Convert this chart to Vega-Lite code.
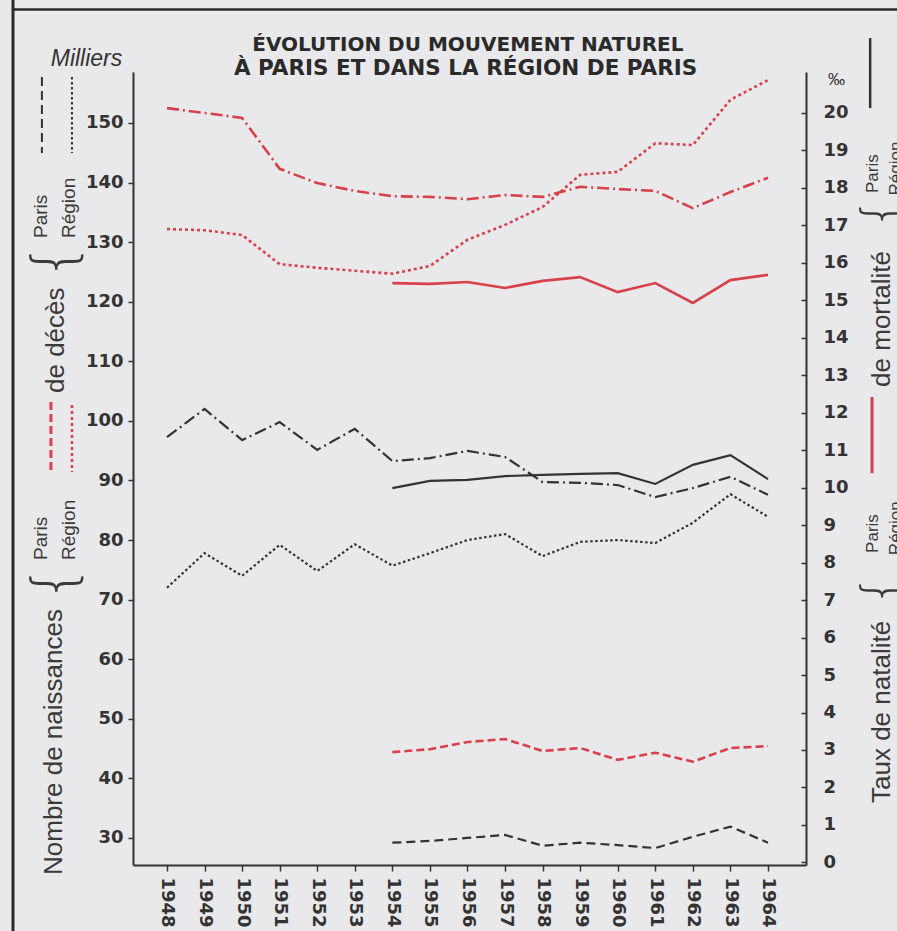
{
  "$schema": "https://vega.github.io/schema/vega-lite/v6.json",
  "width": 673,
  "height": 793,
  "autosize": {"type": "none"},
  "padding": {"left": 133, "top": 72, "right": 91, "bottom": 66},
  "background": "#e9e9eb",
  "config": {"view": {"stroke": null}, "font": "Liberation Sans"},
  "datasets": {
    "series": [
      {"year": 1954, "series": "Naissances Paris", "value": 29.2},
      {"year": 1955, "series": "Naissances Paris", "value": 29.5},
      {"year": 1956, "series": "Naissances Paris", "value": 30.0},
      {"year": 1957, "series": "Naissances Paris", "value": 30.5},
      {"year": 1958, "series": "Naissances Paris", "value": 28.7},
      {"year": 1959, "series": "Naissances Paris", "value": 29.2},
      {"year": 1960, "series": "Naissances Paris", "value": 28.8},
      {"year": 1961, "series": "Naissances Paris", "value": 28.3},
      {"year": 1962, "series": "Naissances Paris", "value": 30.2},
      {"year": 1963, "series": "Naissances Paris", "value": 31.9},
      {"year": 1964, "series": "Naissances Paris", "value": 29.2},
      {"year": 1948, "series": "Naissances Région", "value": 72.0},
      {"year": 1949, "series": "Naissances Région", "value": 77.8},
      {"year": 1950, "series": "Naissances Région", "value": 74.0},
      {"year": 1951, "series": "Naissances Région", "value": 79.2},
      {"year": 1952, "series": "Naissances Région", "value": 74.8},
      {"year": 1953, "series": "Naissances Région", "value": 79.3},
      {"year": 1954, "series": "Naissances Région", "value": 75.7},
      {"year": 1955, "series": "Naissances Région", "value": 77.8},
      {"year": 1956, "series": "Naissances Région", "value": 80.0},
      {"year": 1957, "series": "Naissances Région", "value": 81.0},
      {"year": 1958, "series": "Naissances Région", "value": 77.3},
      {"year": 1959, "series": "Naissances Région", "value": 79.7},
      {"year": 1960, "series": "Naissances Région", "value": 80.0},
      {"year": 1961, "series": "Naissances Région", "value": 79.5},
      {"year": 1962, "series": "Naissances Région", "value": 82.9},
      {"year": 1963, "series": "Naissances Région", "value": 87.7},
      {"year": 1964, "series": "Naissances Région", "value": 83.9},
      {"year": 1954, "series": "Décès Paris", "value": 44.4},
      {"year": 1955, "series": "Décès Paris", "value": 44.9},
      {"year": 1956, "series": "Décès Paris", "value": 46.1},
      {"year": 1957, "series": "Décès Paris", "value": 46.6},
      {"year": 1958, "series": "Décès Paris", "value": 44.6},
      {"year": 1959, "series": "Décès Paris", "value": 45.1},
      {"year": 1960, "series": "Décès Paris", "value": 43.1},
      {"year": 1961, "series": "Décès Paris", "value": 44.3},
      {"year": 1962, "series": "Décès Paris", "value": 42.8},
      {"year": 1963, "series": "Décès Paris", "value": 45.1},
      {"year": 1964, "series": "Décès Paris", "value": 45.4},
      {"year": 1948, "series": "Décès Région", "value": 132.2},
      {"year": 1949, "series": "Décès Région", "value": 132.0},
      {"year": 1950, "series": "Décès Région", "value": 131.2},
      {"year": 1951, "series": "Décès Région", "value": 126.3},
      {"year": 1952, "series": "Décès Région", "value": 125.7},
      {"year": 1953, "series": "Décès Région", "value": 125.2},
      {"year": 1954, "series": "Décès Région", "value": 124.7},
      {"year": 1955, "series": "Décès Région", "value": 126.0},
      {"year": 1956, "series": "Décès Région", "value": 130.4},
      {"year": 1957, "series": "Décès Région", "value": 132.9},
      {"year": 1958, "series": "Décès Région", "value": 135.9},
      {"year": 1959, "series": "Décès Région", "value": 141.3},
      {"year": 1960, "series": "Décès Région", "value": 141.8},
      {"year": 1961, "series": "Décès Région", "value": 146.6},
      {"year": 1962, "series": "Décès Région", "value": 146.3},
      {"year": 1963, "series": "Décès Région", "value": 153.9},
      {"year": 1964, "series": "Décès Région", "value": 157.2},
      {"year": 1954, "series": "Natalité Paris", "value": 9.99},
      {"year": 1955, "series": "Natalité Paris", "value": 10.18},
      {"year": 1956, "series": "Natalité Paris", "value": 10.21},
      {"year": 1957, "series": "Natalité Paris", "value": 10.31},
      {"year": 1958, "series": "Natalité Paris", "value": 10.34},
      {"year": 1959, "series": "Natalité Paris", "value": 10.37},
      {"year": 1960, "series": "Natalité Paris", "value": 10.39},
      {"year": 1961, "series": "Natalité Paris", "value": 10.10},
      {"year": 1962, "series": "Natalité Paris", "value": 10.61},
      {"year": 1963, "series": "Natalité Paris", "value": 10.87},
      {"year": 1964, "series": "Natalité Paris", "value": 10.23},
      {"year": 1948, "series": "Natalité Région", "value": 11.35},
      {"year": 1949, "series": "Natalité Région", "value": 12.10},
      {"year": 1950, "series": "Natalité Région", "value": 11.27},
      {"year": 1951, "series": "Natalité Région", "value": 11.75},
      {"year": 1952, "series": "Natalité Région", "value": 11.01},
      {"year": 1953, "series": "Natalité Région", "value": 11.57},
      {"year": 1954, "series": "Natalité Région", "value": 10.71},
      {"year": 1955, "series": "Natalité Région", "value": 10.79},
      {"year": 1956, "series": "Natalité Région", "value": 10.98},
      {"year": 1957, "series": "Natalité Région", "value": 10.82},
      {"year": 1958, "series": "Natalité Région", "value": 10.15},
      {"year": 1959, "series": "Natalité Région", "value": 10.13},
      {"year": 1960, "series": "Natalité Région", "value": 10.07},
      {"year": 1961, "series": "Natalité Région", "value": 9.75},
      {"year": 1962, "series": "Natalité Région", "value": 9.99},
      {"year": 1963, "series": "Natalité Région", "value": 10.29},
      {"year": 1964, "series": "Natalité Région", "value": 9.81},
      {"year": 1954, "series": "Mortalité Paris", "value": 15.46},
      {"year": 1955, "series": "Mortalité Paris", "value": 15.44},
      {"year": 1956, "series": "Mortalité Paris", "value": 15.49},
      {"year": 1957, "series": "Mortalité Paris", "value": 15.33},
      {"year": 1958, "series": "Mortalité Paris", "value": 15.52},
      {"year": 1959, "series": "Mortalité Paris", "value": 15.62},
      {"year": 1960, "series": "Mortalité Paris", "value": 15.22},
      {"year": 1961, "series": "Mortalité Paris", "value": 15.46},
      {"year": 1962, "series": "Mortalité Paris", "value": 14.93},
      {"year": 1963, "series": "Mortalité Paris", "value": 15.54},
      {"year": 1964, "series": "Mortalité Paris", "value": 15.68},
      {"year": 1948, "series": "Mortalité Région", "value": 20.13},
      {"year": 1949, "series": "Mortalité Région", "value": 20.00},
      {"year": 1950, "series": "Mortalité Région", "value": 19.87},
      {"year": 1951, "series": "Mortalité Région", "value": 18.51},
      {"year": 1952, "series": "Mortalité Région", "value": 18.13},
      {"year": 1953, "series": "Mortalité Région", "value": 17.92},
      {"year": 1954, "series": "Mortalité Région", "value": 17.78},
      {"year": 1955, "series": "Mortalité Région", "value": 17.76},
      {"year": 1956, "series": "Mortalité Région", "value": 17.70},
      {"year": 1957, "series": "Mortalité Région", "value": 17.81},
      {"year": 1958, "series": "Mortalité Région", "value": 17.76},
      {"year": 1959, "series": "Mortalité Région", "value": 18.03},
      {"year": 1960, "series": "Mortalité Région", "value": 17.97},
      {"year": 1961, "series": "Mortalité Région", "value": 17.92},
      {"year": 1962, "series": "Mortalité Région", "value": 17.46},
      {"year": 1963, "series": "Mortalité Région", "value": 17.89},
      {"year": 1964, "series": "Mortalité Région", "value": 18.27}
    ]
  },
  "layer": [
    {
      "data": {"name": "series"},
      "transform": [{"filter": {"field": "series", "equal": "Naissances Région"}}],
      "mark": {"type": "line", "strokeWidth": 2.2, "color": "#333333", "strokeDash": [2.5, 2.5]},
      "encoding": {
        "x": {"field": "year", "type": "quantitative",
          "scale": {"domain": [1947.095, 1965.012], "nice": false, "zero": false},
          "axis": {"orient": "bottom", "values": [1948,1949,1950,1951,1952,1953,1954,1955,1956,1957,1958,1959,1960,1961,1962,1963,1964],
            "format": "d", "title": null, "grid": false, "labelAngle": 90, "labelFont": "DejaVu Sans", "labelFontWeight": "bold",
            "labelFontSize": 18, "labelColor": "#333", "tickSize": 6, "tickWidth": 1.5, "tickColor": "#333",
            "domainColor": "#333", "domainWidth": 2, "labelPadding": 6}},
        "y": {"field": "value", "type": "quantitative",
          "scale": {"domain": [25.46, 158.56], "nice": false, "zero": false},
          "axis": {"orient": "left", "values": [30,40,50,60,70,80,90,100,110,120,130,140,150], "grid": false,
            "title": "Milliers", "titleAngle": 0, "titleX": -47, "titleY": -14, "titleAlign": "center", "titleBaseline": "middle",
            "titleFont": "Liberation Sans", "titleFontStyle": "italic", "titleFontWeight": "normal", "titleFontSize": 23, "titleColor": "#333",
            "labelFont": "DejaVu Sans", "labelFontWeight": "bold", "labelFontSize": 18, "labelColor": "#333",
            "tickSize": 5, "tickWidth": 1.5, "tickColor": "#333", "domainColor": "#333", "domainWidth": 2, "labelPadding": 5}}
      }
    },
    {
      "data": {"name": "series"},
      "transform": [{"filter": {"field": "series", "equal": "Naissances Paris"}}],
      "mark": {"type": "line", "strokeWidth": 2.2, "color": "#333333", "strokeDash": [9, 5]},
      "encoding": {
        "x": {"field": "year", "type": "quantitative", "scale": {"domain": [1947.095, 1965.012], "nice": false, "zero": false}, "axis": null},
        "y": {"field": "value", "type": "quantitative", "scale": {"domain": [25.46, 158.56], "nice": false, "zero": false}, "axis": null}
      }
    },
    {
      "data": {"name": "series"},
      "transform": [{"filter": {"field": "series", "equal": "Décès Paris"}}],
      "mark": {"type": "line", "strokeWidth": 2.6, "color": "#d8404a", "strokeDash": [8, 4]},
      "encoding": {
        "x": {"field": "year", "type": "quantitative", "scale": {"domain": [1947.095, 1965.012], "nice": false, "zero": false}, "axis": null},
        "y": {"field": "value", "type": "quantitative", "scale": {"domain": [25.46, 158.56], "nice": false, "zero": false}, "axis": null}
      }
    },
    {
      "data": {"name": "series"},
      "transform": [{"filter": {"field": "series", "equal": "Décès Région"}}],
      "mark": {"type": "line", "strokeWidth": 2.6, "color": "#d8404a", "strokeDash": [3, 3]},
      "encoding": {
        "x": {"field": "year", "type": "quantitative", "scale": {"domain": [1947.095, 1965.012], "nice": false, "zero": false}, "axis": null},
        "y": {"field": "value", "type": "quantitative", "scale": {"domain": [25.46, 158.56], "nice": false, "zero": false}, "axis": null}
      }
    },
    {
      "data": {"name": "series"},
      "transform": [{"filter": {"field": "series", "equal": "Natalité Paris"}}],
      "mark": {"type": "line", "strokeWidth": 2.2, "color": "#333333"},
      "encoding": {
        "x": {"field": "year", "type": "quantitative", "scale": {"domain": [1947.095, 1965.012], "nice": false, "zero": false}, "axis": null},
        "y": {"field": "value", "type": "quantitative",
          "scale": {"domain": [-0.07, 21.094], "nice": false, "zero": false},
          "axis": {"orient": "right", "values": [0,1,2,3,4,5,6,7,8,9,10,11,12,13,14,15,16,17,18,19,20], "grid": false,
            "title": "‰", "titleAngle": 0, "titleX": 30, "titleY": 7, "titleAlign": "center", "titleBaseline": "middle",
            "titleFont": "Liberation Sans", "titleFontWeight": "normal", "titleFontSize": 17, "titleColor": "#333",
            "labelFont": "DejaVu Sans", "labelFontWeight": "bold", "labelFontSize": 18, "labelColor": "#333",
            "tickSize": -5, "tickWidth": 1.5, "tickColor": "#333", "domainColor": "#333", "domainWidth": 2, "labelPadding": 22}}
      }
    },
    {
      "data": {"name": "series"},
      "transform": [{"filter": {"field": "series", "equal": "Natalité Région"}}],
      "mark": {"type": "line", "strokeWidth": 2.2, "color": "#333333", "strokeDash": [12, 4, 2, 4]},
      "encoding": {
        "x": {"field": "year", "type": "quantitative", "scale": {"domain": [1947.095, 1965.012], "nice": false, "zero": false}, "axis": null},
        "y": {"field": "value", "type": "quantitative", "scale": {"domain": [-0.07, 21.094], "nice": false, "zero": false}, "axis": null}
      }
    },
    {
      "data": {"name": "series"},
      "transform": [{"filter": {"field": "series", "equal": "Mortalité Paris"}}],
      "mark": {"type": "line", "strokeWidth": 2.6, "color": "#d8404a"},
      "encoding": {
        "x": {"field": "year", "type": "quantitative", "scale": {"domain": [1947.095, 1965.012], "nice": false, "zero": false}, "axis": null},
        "y": {"field": "value", "type": "quantitative", "scale": {"domain": [-0.07, 21.094], "nice": false, "zero": false}, "axis": null}
      }
    },
    {
      "data": {"name": "series"},
      "transform": [{"filter": {"field": "series", "equal": "Mortalité Région"}}],
      "mark": {"type": "line", "strokeWidth": 2.6, "color": "#d8404a", "strokeDash": [12, 4, 2, 4]},
      "encoding": {
        "x": {"field": "year", "type": "quantitative", "scale": {"domain": [1947.095, 1965.012], "nice": false, "zero": false}, "axis": null},
        "y": {"field": "value", "type": "quantitative", "scale": {"domain": [-0.07, 21.094], "nice": false, "zero": false}, "axis": null}
      }
    },
    {
      "data": {"values": [{}]},
      "mark": {"type": "text", "align": "center", "baseline": "alphabetic", "font": "DejaVu Sans", "fontWeight": "bold", "fontSize": 20, "color": "#2a2a2a"},
      "encoding": {
        "x": {"datum": 1956.01, "type": "quantitative", "scale": {"domain": [1947.095, 1965.012], "nice": false, "zero": false}, "axis": null},
        "y": {"datum": 162.03, "type": "quantitative", "scale": {"domain": [25.46, 158.56], "nice": false, "zero": false}, "axis": null},
        "text": {"value": "ÉVOLUTION DU MOUVEMENT NATUREL"}
      }
    },
    {
      "data": {"values": [{}]},
      "mark": {"type": "text", "align": "center", "baseline": "alphabetic", "font": "DejaVu Sans", "fontWeight": "bold", "fontSize": 21.5, "color": "#2a2a2a"},
      "encoding": {
        "x": {"datum": 1955.95, "type": "quantitative", "scale": {"domain": [1947.095, 1965.012], "nice": false, "zero": false}, "axis": null},
        "y": {"datum": 158.0, "type": "quantitative", "scale": {"domain": [25.46, 158.56], "nice": false, "zero": false}, "axis": null},
        "text": {"value": "À PARIS ET DANS LA RÉGION DE PARIS"}
      }
    },
    {
      "data": {"values": [{}]},
      "mark": {"type": "rule", "color": "#2a2a2a", "strokeWidth": 3},
      "encoding": {
        "x": {"datum": 1943.9, "type": "quantitative", "scale": {"domain": [1947.095, 1965.012], "nice": false, "zero": false}, "axis": null},
        "y": {"datum": 175, "type": "quantitative", "scale": {"domain": [25.46, 158.56], "nice": false, "zero": false}, "axis": null},
        "y2": {"datum": 0}
      }
    },
    {
      "data": {"values": [{}]},
      "mark": {"type": "rule", "color": "#2a2a2a", "strokeWidth": 2.5},
      "encoding": {
        "x": {"datum": 1943.9, "type": "quantitative", "scale": {"domain": [1947.095, 1965.012], "nice": false, "zero": false}, "axis": null},
        "x2": {"datum": 1968.5},
        "y": {"datum": 169.05, "type": "quantitative", "scale": {"domain": [25.46, 158.56], "nice": false, "zero": false}, "axis": null}
      }
    },
    {
      "data": {"values": [{}]},
      "mark": {"type": "rule", "color": "#333333", "strokeWidth": 2, "strokeDash": [9, 5]},
      "encoding": {
        "x": {"datum": 1944.67, "type": "quantitative", "scale": {"domain": [1947.095, 1965.012], "nice": false, "zero": false}, "axis": null},
        "y": {"datum": 157.72, "type": "quantitative", "scale": {"domain": [25.46, 158.56], "nice": false, "zero": false}, "axis": null},
        "y2": {"datum": 144.96}
      }
    },
    {
      "data": {"values": [{}]},
      "mark": {"type": "rule", "color": "#333333", "strokeWidth": 2, "strokeDash": [2.5, 2.5]},
      "encoding": {
        "x": {"datum": 1945.47, "type": "quantitative", "scale": {"domain": [1947.095, 1965.012], "nice": false, "zero": false}, "axis": null},
        "y": {"datum": 157.72, "type": "quantitative", "scale": {"domain": [25.46, 158.56], "nice": false, "zero": false}, "axis": null},
        "y2": {"datum": 144.96}
      }
    },
    {
      "data": {"values": [{}]},
      "mark": {"type": "rule", "color": "#d8404a", "strokeWidth": 3, "strokeDash": [8, 4]},
      "encoding": {
        "x": {"datum": 1944.91, "type": "quantitative", "scale": {"domain": [1947.095, 1965.012], "nice": false, "zero": false}, "axis": null},
        "y": {"datum": 103.17, "type": "quantitative", "scale": {"domain": [25.46, 158.56], "nice": false, "zero": false}, "axis": null},
        "y2": {"datum": 91.42}
      }
    },
    {
      "data": {"values": [{}]},
      "mark": {"type": "rule", "color": "#d8404a", "strokeWidth": 2.5, "strokeDash": [3, 3]},
      "encoding": {
        "x": {"datum": 1945.47, "type": "quantitative", "scale": {"domain": [1947.095, 1965.012], "nice": false, "zero": false}, "axis": null},
        "y": {"datum": 102.67, "type": "quantitative", "scale": {"domain": [25.46, 158.56], "nice": false, "zero": false}, "axis": null},
        "y2": {"datum": 91.42}
      }
    },
    {
      "data": {"values": [{}]},
      "mark": {"type": "text", "angle": 270, "align": "left", "baseline": "alphabetic", "font": "Liberation Sans", "fontSize": 19, "color": "#3a3a3a"},
      "encoding": {
        "x": {"datum": 1944.81, "type": "quantitative", "scale": {"domain": [1947.095, 1965.012], "nice": false, "zero": false}, "axis": null},
        "y": {"datum": 130.7, "type": "quantitative", "scale": {"domain": [25.46, 158.56], "nice": false, "zero": false}, "axis": null},
        "text": {"value": "Paris"}
      }
    },
    {
      "data": {"values": [{}]},
      "mark": {"type": "text", "angle": 270, "align": "left", "baseline": "alphabetic", "font": "Liberation Sans", "fontSize": 19, "color": "#3a3a3a"},
      "encoding": {
        "x": {"datum": 1945.55, "type": "quantitative", "scale": {"domain": [1947.095, 1965.012], "nice": false, "zero": false}, "axis": null},
        "y": {"datum": 130.7, "type": "quantitative", "scale": {"domain": [25.46, 158.56], "nice": false, "zero": false}, "axis": null},
        "text": {"value": "Région"}
      }
    },
    {
      "data": {"values": [{}]},
      "mark": {"type": "text", "angle": 270, "align": "center", "baseline": "middle", "font": "DejaVu Sans", "fontWeight": 200, "fontSize": 58, "color": "#3a3a3a"},
      "encoding": {
        "x": {"datum": 1945.07, "type": "quantitative", "scale": {"domain": [1947.095, 1965.012], "nice": false, "zero": false}, "axis": null},
        "y": {"datum": 126.84, "type": "quantitative", "scale": {"domain": [25.46, 158.56], "nice": false, "zero": false}, "axis": null},
        "text": {"value": "{"}
      }
    },
    {
      "data": {"values": [{}]},
      "mark": {"type": "text", "angle": 270, "align": "left", "baseline": "alphabetic", "font": "Liberation Sans", "fontSize": 26, "color": "#3a3a3a"},
      "encoding": {
        "x": {"datum": 1945.26, "type": "quantitative", "scale": {"domain": [1947.095, 1965.012], "nice": false, "zero": false}, "axis": null},
        "y": {"datum": 104.68, "type": "quantitative", "scale": {"domain": [25.46, 158.56], "nice": false, "zero": false}, "axis": null},
        "text": {"value": "de décès"}
      }
    },
    {
      "data": {"values": [{}]},
      "mark": {"type": "text", "angle": 270, "align": "left", "baseline": "alphabetic", "font": "Liberation Sans", "fontSize": 19, "color": "#3a3a3a"},
      "encoding": {
        "x": {"datum": 1944.81, "type": "quantitative", "scale": {"domain": [1947.095, 1965.012], "nice": false, "zero": false}, "axis": null},
        "y": {"datum": 76.65, "type": "quantitative", "scale": {"domain": [25.46, 158.56], "nice": false, "zero": false}, "axis": null},
        "text": {"value": "Paris"}
      }
    },
    {
      "data": {"values": [{}]},
      "mark": {"type": "text", "angle": 270, "align": "left", "baseline": "alphabetic", "font": "Liberation Sans", "fontSize": 19, "color": "#3a3a3a"},
      "encoding": {
        "x": {"datum": 1945.55, "type": "quantitative", "scale": {"domain": [1947.095, 1965.012], "nice": false, "zero": false}, "axis": null},
        "y": {"datum": 76.65, "type": "quantitative", "scale": {"domain": [25.46, 158.56], "nice": false, "zero": false}, "axis": null},
        "text": {"value": "Région"}
      }
    },
    {
      "data": {"values": [{}]},
      "mark": {"type": "text", "angle": 270, "align": "center", "baseline": "middle", "font": "DejaVu Sans", "fontWeight": 200, "fontSize": 58, "color": "#3a3a3a"},
      "encoding": {
        "x": {"datum": 1945.07, "type": "quantitative", "scale": {"domain": [1947.095, 1965.012], "nice": false, "zero": false}, "axis": null},
        "y": {"datum": 72.79, "type": "quantitative", "scale": {"domain": [25.46, 158.56], "nice": false, "zero": false}, "axis": null},
        "text": {"value": "{"}
      }
    },
    {
      "data": {"values": [{}]},
      "mark": {"type": "text", "angle": 270, "align": "left", "baseline": "alphabetic", "font": "Liberation Sans", "fontSize": 26, "color": "#3a3a3a"},
      "encoding": {
        "x": {"datum": 1945.21, "type": "quantitative", "scale": {"domain": [1947.095, 1965.012], "nice": false, "zero": false}, "axis": null},
        "y": {"datum": 23.78, "type": "quantitative", "scale": {"domain": [25.46, 158.56], "nice": false, "zero": false}, "axis": null},
        "text": {"value": "Nombre de naissances"}
      }
    },
    {
      "data": {"values": [{}]},
      "mark": {"type": "rule", "color": "#333333", "strokeWidth": 2.5},
      "encoding": {
        "x": {"datum": 1966.72, "type": "quantitative", "scale": {"domain": [1947.095, 1965.012], "nice": false, "zero": false}, "axis": null},
        "y": {"datum": 22.0, "type": "quantitative", "scale": {"domain": [-0.07, 21.094], "nice": false, "zero": false}, "axis": null},
        "y2": {"datum": 20.13}
      }
    },
    {
      "data": {"values": [{}]},
      "mark": {"type": "rule", "color": "#d8404a", "strokeWidth": 3},
      "encoding": {
        "x": {"datum": 1966.77, "type": "quantitative", "scale": {"domain": [1947.095, 1965.012], "nice": false, "zero": false}, "axis": null},
        "y": {"datum": 12.42, "type": "quantitative", "scale": {"domain": [-0.07, 21.094], "nice": false, "zero": false}, "axis": null},
        "y2": {"datum": 10.39}
      }
    },
    {
      "data": {"values": [{}]},
      "mark": {"type": "text", "angle": 270, "align": "left", "baseline": "alphabetic", "font": "Liberation Sans", "fontSize": 17, "color": "#3a3a3a"},
      "encoding": {
        "x": {"datum": 1966.93, "type": "quantitative", "scale": {"domain": [1947.095, 1965.012], "nice": false, "zero": false}, "axis": null},
        "y": {"datum": 17.865, "type": "quantitative", "scale": {"domain": [-0.07, 21.094], "nice": false, "zero": false}, "axis": null},
        "text": {"value": "Paris"}
      }
    },
    {
      "data": {"values": [{}]},
      "mark": {"type": "text", "angle": 270, "align": "left", "baseline": "alphabetic", "font": "Liberation Sans", "fontSize": 17, "color": "#3a3a3a"},
      "encoding": {
        "x": {"datum": 1967.54, "type": "quantitative", "scale": {"domain": [1947.095, 1965.012], "nice": false, "zero": false}, "axis": null},
        "y": {"datum": 17.8, "type": "quantitative", "scale": {"domain": [-0.07, 21.094], "nice": false, "zero": false}, "axis": null},
        "text": {"value": "Région"}
      }
    },
    {
      "data": {"values": [{}]},
      "mark": {"type": "text", "angle": 270, "align": "center", "baseline": "middle", "font": "DejaVu Sans", "fontWeight": 200, "fontSize": 50, "color": "#3a3a3a"},
      "encoding": {
        "x": {"datum": 1967.04, "type": "quantitative", "scale": {"domain": [1947.095, 1965.012], "nice": false, "zero": false}, "axis": null},
        "y": {"datum": 17.33, "type": "quantitative", "scale": {"domain": [-0.07, 21.094], "nice": false, "zero": false}, "axis": null},
        "text": {"value": "{"}
      }
    },
    {
      "data": {"values": [{}]},
      "mark": {"type": "text", "angle": 270, "align": "left", "baseline": "alphabetic", "font": "Liberation Sans", "fontSize": 26, "color": "#3a3a3a"},
      "encoding": {
        "x": {"datum": 1967.25, "type": "quantitative", "scale": {"domain": [1947.095, 1965.012], "nice": false, "zero": false}, "axis": null},
        "y": {"datum": 12.69, "type": "quantitative", "scale": {"domain": [-0.07, 21.094], "nice": false, "zero": false}, "axis": null},
        "text": {"value": "de mortalité"}
      }
    },
    {
      "data": {"values": [{}]},
      "mark": {"type": "text", "angle": 270, "align": "left", "baseline": "alphabetic", "font": "Liberation Sans", "fontSize": 17, "color": "#3a3a3a"},
      "encoding": {
        "x": {"datum": 1966.93, "type": "quantitative", "scale": {"domain": [1947.095, 1965.012], "nice": false, "zero": false}, "axis": null},
        "y": {"datum": 8.26, "type": "quantitative", "scale": {"domain": [-0.07, 21.094], "nice": false, "zero": false}, "axis": null},
        "text": {"value": "Paris"}
      }
    },
    {
      "data": {"values": [{}]},
      "mark": {"type": "text", "angle": 270, "align": "left", "baseline": "alphabetic", "font": "Liberation Sans", "fontSize": 17, "color": "#3a3a3a"},
      "encoding": {
        "x": {"datum": 1967.54, "type": "quantitative", "scale": {"domain": [1947.095, 1965.012], "nice": false, "zero": false}, "axis": null},
        "y": {"datum": 8.2, "type": "quantitative", "scale": {"domain": [-0.07, 21.094], "nice": false, "zero": false}, "axis": null},
        "text": {"value": "Région"}
      }
    },
    {
      "data": {"values": [{}]},
      "mark": {"type": "text", "angle": 270, "align": "center", "baseline": "middle", "font": "DejaVu Sans", "fontWeight": 200, "fontSize": 50, "color": "#3a3a3a"},
      "encoding": {
        "x": {"datum": 1967.04, "type": "quantitative", "scale": {"domain": [1947.095, 1965.012], "nice": false, "zero": false}, "axis": null},
        "y": {"datum": 7.27, "type": "quantitative", "scale": {"domain": [-0.07, 21.094], "nice": false, "zero": false}, "axis": null},
        "text": {"value": "{"}
      }
    },
    {
      "data": {"values": [{}]},
      "mark": {"type": "text", "angle": 270, "align": "left", "baseline": "alphabetic", "font": "Liberation Sans", "fontSize": 26, "color": "#3a3a3a"},
      "encoding": {
        "x": {"datum": 1967.25, "type": "quantitative", "scale": {"domain": [1947.095, 1965.012], "nice": false, "zero": false}, "axis": null},
        "y": {"datum": 1.585, "type": "quantitative", "scale": {"domain": [-0.07, 21.094], "nice": false, "zero": false}, "axis": null},
        "text": {"value": "Taux de natalité"}
      }
    }
  ],
  "resolve": {"scale": {"x": "independent", "y": "independent"}}
}
